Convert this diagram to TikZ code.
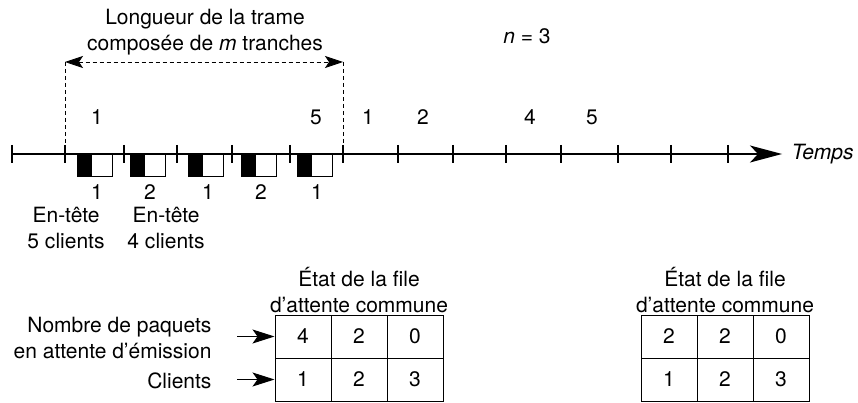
\documentclass[tikz,border=0pt]{standalone}
\usepackage{fontspec}
\setmainfont{TeX Gyre Heros}
\usetikzlibrary{arrows.meta,positioning}

\begin{document}
\begin{tikzpicture}[x=1pt,y=-1pt,>={Stealth[length=18pt,width=12pt,inset=4pt]},
  every node/.style={font=\fontsize{21}{26}\selectfont},
  tick/.style={line width=1.4pt},
  slot/.style={draw,line width=1pt},
  cell/.style={draw,line width=1pt,minimum width=56pt,minimum height=43pt,inner sep=0pt},
  guide/.style={dash pattern=on 4pt off 3pt,line width=0.8pt},
  pointer/.style={line width=0.9pt,-{Stealth[length=22pt,width=14pt,inset=5pt]}}]
  \useasboundingbox (0,0) rectangle (858,403);

  \coordinate (debut) at (12,154);
  \coordinate (fin) at (782,154);
  \draw[line width=1.2pt,-{Stealth[length=32pt,width=17pt,inset=8pt]}] (debut) -- (fin);
  \node[anchor=west,font=\fontsize{21}{26}\selectfont\itshape] (temps) at (788,154) {Temps};
  \foreach \x in {12,65,124,177,232,290,343,398,453,506,561,618,671,728}
    \draw[tick] (\x,145) -- (\x,163);

  \foreach \x/\n [count=\i] in {77/1,130/2,188/1,241/2,297/1} {
    \fill (\x,154) rectangle ++(15,23);
    \draw[slot] (\x,154) rectangle ++(35,23);
    \node (bas\i) at (\x+20,192) {\n};
  }
  \foreach \x/\n [count=\i] in {97/1,316/5,368/1,423/2,530/4,592/5}
    \node (haut\i) at (\x,117) {\n};

  \coordinate (gauche) at (65,62);
  \coordinate (droite) at (343,62);
  \coordinate (gaucheaxe) at (65,154);
  \coordinate (droiteaxe) at (343,154);
  \draw[guide] (gauche) -- (gaucheaxe);
  \draw[guide] (droite) -- (droiteaxe);
  \draw[guide,<->] (gauche) -- (droite);
  \node[align=center] (trame) at (205,32) {Longueur de la trame\\composée de \textit{m} tranches};
  \node (n) at (527,36) {\textit{n} = 3};

  \node[align=center] (entete1) at (66,228) {En-tête\\5 clients};
  \node[align=center] (entete2) at (166,228) {En-tête\\4 clients};

  \node[align=center] (etat1) at (359,290) {État de la file\\d’attente commune};
  \node[align=center] (etat2) at (725,290) {État de la file\\d’attente commune};
  \foreach \v [count=\i] in {4,2,0}
    \node[cell] (a1\i) at (247+56*\i,336.5) {\v};
  \foreach \v [count=\i] in {1,2,3}
    \node[cell] (a2\i) at (247+56*\i,379.5) {\v};
  \foreach \v [count=\i] in {2,2,0}
    \node[cell] (b1\i) at (613+56*\i,336.5) {\v};
  \foreach \v [count=\i] in {1,2,3}
    \node[cell] (b2\i) at (613+56*\i,379.5) {\v};

  \node[align=right,anchor=east] (paquets) at (215,338) {Nombre de paquets\\en attente d’émission};
  \node[anchor=east] (clients) at (215,381) {Clients};
  \coordinate (fleche1) at (237,336.5);
  \coordinate (fleche2) at (237,379.5);
  \draw[pointer] (fleche1) -- (a11.west);
  \draw[pointer] (fleche2) -- (a21.west);
\end{tikzpicture}
\end{document}
